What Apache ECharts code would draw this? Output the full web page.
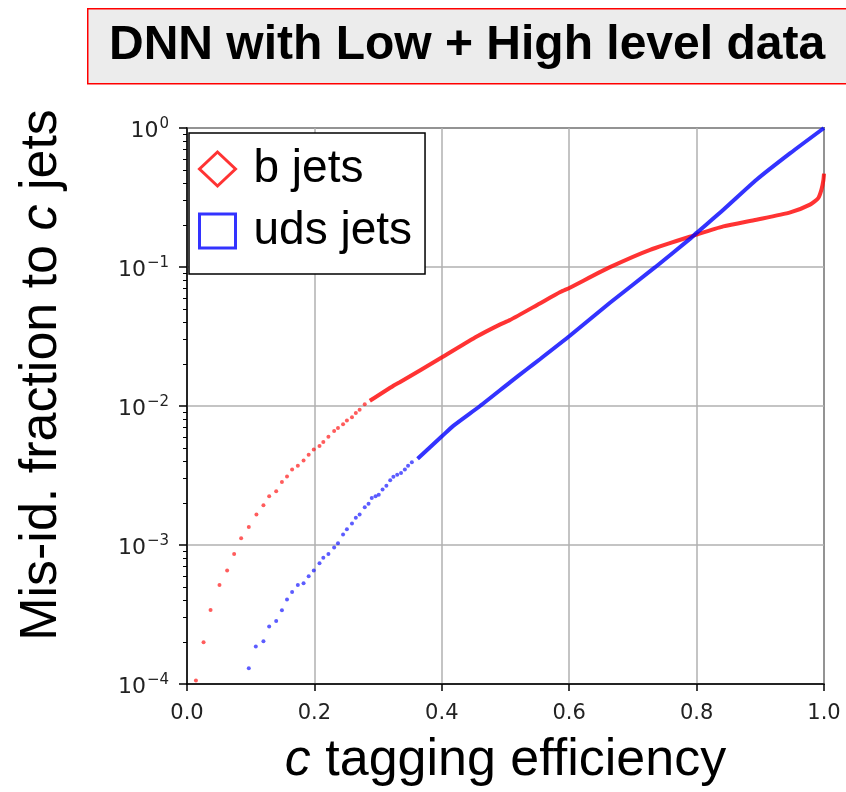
<!DOCTYPE html>
<html>
<head>
<meta charset="utf-8">
<script src="https://cdn.jsdelivr.net/npm/echarts@6/dist/echarts.min.js"></script>
<style>html,body{margin:0;padding:0;background:#fff;}#c{width:846px;height:792px;}</style>
</head>
<body>
<div id="c"></div>
<script>
// ---- data ----
const titleText = 'DNN with Low + High level data';
const xTicks = [0.0, 0.2, 0.4, 0.6, 0.8, 1.0];
const yMinorTicks = [2e-4,3e-4,4e-4,5e-4,6e-4,7e-4,8e-4,9e-4,
  2e-3,3e-3,4e-3,5e-3,6e-3,7e-3,8e-3,9e-3,
  2e-2,3e-2,4e-2,5e-2,6e-2,7e-2,8e-2,9e-2,
  0.2,0.3,0.4,0.5,0.6,0.7,0.8,0.9];

// b jets: sparse points (low efficiency) and dense part
const bSparseX = [0.014,0.026,0.037,0.051,0.063,0.074,0.085,0.097,0.109,0.120,0.129,0.140,0.149,0.157,0.165,0.174,0.183,0.191,0.199,0.208,0.214,0.222,0.231,0.237,0.245,0.251,0.259,0.265,0.271,0.279];
const bSparseY = [1.06e-4,2.0e-4,3.4e-4,5.15e-4,6.56e-4,8.6e-4,1.12e-3,1.35e-3,1.66e-3,1.93e-3,2.24e-3,2.44e-3,2.84e-3,3.11e-3,3.49e-3,3.72e-3,4.05e-3,4.46e-3,4.86e-3,5.16e-3,5.5e-3,6.0e-3,6.6e-3,6.95e-3,7.4e-3,7.85e-3,8.3e-3,8.9e-3,9.4e-3,1.03e-2];
const bDenseX = [0.287,0.324,0.334,0.401,0.455,0.491,0.507,0.554,0.586,0.601,0.664,0.727,0.800,0.842,0.894,0.947,0.978,0.991,0.996,0.999,1.0];
const bDenseY = [1.09e-2,1.40e-2,1.48e-2,2.25e-2,3.16e-2,3.85e-2,4.15e-2,5.47e-2,6.6e-2,7.1e-2,0.0997,0.133,0.171,0.196,0.219,0.247,0.281,0.313,0.36,0.42,0.47];

// uds jets
const uSparseX = [0.097,0.108,0.120,0.129,0.140,0.149,0.157,0.165,0.174,0.183,0.191,0.199,0.208,0.214,0.222,0.231,0.237,0.245,0.251,0.259,0.265,0.271,0.279,0.285,0.290,0.296,0.301,0.307,0.313,0.319,0.324,0.330,0.336,0.342,0.347,0.353];
const uSparseY = [1.30e-4,1.86e-4,2.03e-4,2.59e-4,2.84e-4,3.39e-4,4.05e-4,4.6e-4,5.15e-4,5.3e-4,5.97e-4,6.56e-4,7.4e-4,8.1e-4,8.6e-4,9.6e-4,1.03e-3,1.19e-3,1.30e-3,1.43e-3,1.57e-3,1.66e-3,1.87e-3,1.98e-3,2.18e-3,2.24e-3,2.30e-3,2.51e-3,2.67e-3,2.92e-3,3.10e-3,3.2e-3,3.3e-3,3.49e-3,3.72e-3,3.94e-3];
const uDenseX = [0.362,0.401,0.418,0.460,0.507,0.533,0.554,0.601,0.664,0.735,0.790,0.800,0.842,0.894,0.947,1.0];
const uDenseY = [4.17e-3,6.1e-3,7.2e-3,1.0e-2,1.48e-2,1.83e-2,2.17e-2,3.2e-2,5.53e-2,0.0997,0.16,0.176,0.258,0.424,0.659,1.0];

const pairs = (xs, ys) => xs.map((x, i) => [x, ys[i]]);
const RED = 'rgba(255,0,0,0.8)';
const BLUE = 'rgba(0,0,255,0.8)';
const FONT = '"Liberation Sans", Arial, sans-serif';
const TICKFONT = '"DejaVu Sans", sans-serif';

const chart = echarts.init(document.getElementById('c'), null, {renderer: 'canvas'});
chart.setOption({
  backgroundColor: '#fff',
  animation: false,
  graphic: [
    {type: 'rect', left: 87, top: 8, shape: {width: 800, height: 75},
     style: {fill: '#ececec', stroke: '#ff0000', lineWidth: 1.5}, z: 10},
    {type: 'text', x: 109, y: 46, z: 11,
     style: {text: titleText, font: 'bold 48px ' + FONT, fill: '#000', verticalAlign: 'middle'}}
  ],
  grid: {left: 187, right: 22, top: 128, bottom: 106, show: true, borderColor: '#000', borderWidth: 1.5, backgroundColor: 'transparent'},
  legend: {
    orient: 'vertical', left: 189, top: 133,
    padding: [13, 13, 20, 9], itemGap: 16, itemWidth: 36, itemHeight: 34,
    backgroundColor: '#fff', borderColor: '#000', borderWidth: 1.5, borderRadius: 0,
    textStyle: {fontFamily: FONT, fontSize: 46, color: '#000', lineHeight: 40, padding: [0, 0, 0, 13]},
    data: [
      {name: 'b jets', icon: 'diamond', itemStyle: {color: 'rgba(0,0,0,0)', borderColor: '#ff0000', borderWidth: 3}},
      {name: 'uds jets', icon: 'rect', itemStyle: {color: 'rgba(0,0,0,0)', borderColor: '#0000ff', borderWidth: 3}}
    ],
    z: 20
  },
  xAxis: {
    type: 'value', min: 0, max: 1, interval: 0.2,
    name: '{i|c} tagging efficiency', nameLocation: 'middle', nameGap: 51,
    nameTextStyle: {fontFamily: FONT, fontSize: 52, lineHeight: 52, color: '#000',
      rich: {i: {fontFamily: FONT, fontSize: 52, lineHeight: 52, fontStyle: 'italic', color: '#000'}}},
    axisLine: {show: true, lineStyle: {color: '#000', width: 1.5}},
    axisTick: {show: true, inside: false, length: 7, lineStyle: {color: '#000', width: 1.5}},
    axisLabel: {show: true, margin: 19, fontFamily: TICKFONT, fontSize: 21, color: '#222',
      formatter: v => v.toFixed(1), customValues: xTicks},
    splitLine: {show: true, lineStyle: {color: '#b0b0b0', width: 1.5}}
  },
  yAxis: [
    {
      type: 'log', logBase: 10, min: 1e-4, max: 1,
      name: 'Mis-id. fraction to {i|c} jets', nameLocation: 'middle', nameGap: 119,
      nameTextStyle: {fontFamily: FONT, fontSize: 52, lineHeight: 52, color: '#000', padding: [0, 0, 0, 62],
        rich: {i: {fontFamily: FONT, fontSize: 52, lineHeight: 52, fontStyle: 'italic', color: '#000'}}},
      axisLine: {show: true, lineStyle: {color: '#000', width: 1.5}},
      axisTick: {show: true, length: 8, lineStyle: {color: '#000', width: 1.5}},
      axisLabel: {show: true, margin: 18, color: '#222',
        formatter: v => {
          const e = Math.round(Math.log10(v));
          return '{b|10}{s|' + (e < 0 ? '\u2212' + (-e) : String(e)) + '}';
        },
        rich: {
          b: {fontFamily: TICKFONT, fontSize: 22, color: '#222', padding: [6, 0, 0, 0]},
          s: {fontFamily: TICKFONT, fontSize: 15, color: '#222', padding: [0, 0, 8, 1]}
        }
      },
      splitLine: {show: true, lineStyle: {color: '#b0b0b0', width: 1.5}},
      minorTick: {show: false}
    },
    {
      type: 'log', logBase: 10, min: 1e-4, max: 1, position: 'left',
      axisLine: {show: false},
      axisTick: {show: true, length: 4, lineStyle: {color: '#000', width: 1}, customValues: yMinorTicks},
      axisLabel: {show: false},
      splitLine: {show: false}
    }
  ],
  series: [
    {name: 'b jets', type: 'scatter', data: pairs(bSparseX, bSparseY), symbol: 'circle', symbolSize: 4,
     itemStyle: {color: RED}, z: 3},
    {name: 'b jets', type: 'line', data: pairs(bDenseX, bDenseY), showSymbol: false, symbol: 'none', smooth: 0.2,
     lineStyle: {color: RED, width: 4}, itemStyle: {color: RED}, z: 3},
    {name: 'uds jets', type: 'scatter', data: pairs(uSparseX, uSparseY), symbol: 'circle', symbolSize: 4,
     itemStyle: {color: BLUE}, z: 4},
    {name: 'uds jets', type: 'line', data: pairs(uDenseX, uDenseY), showSymbol: false, symbol: 'none', smooth: 0.2,
     lineStyle: {color: BLUE, width: 4}, itemStyle: {color: BLUE}, z: 4}
  ]
});
</script>
</body>
</html>
